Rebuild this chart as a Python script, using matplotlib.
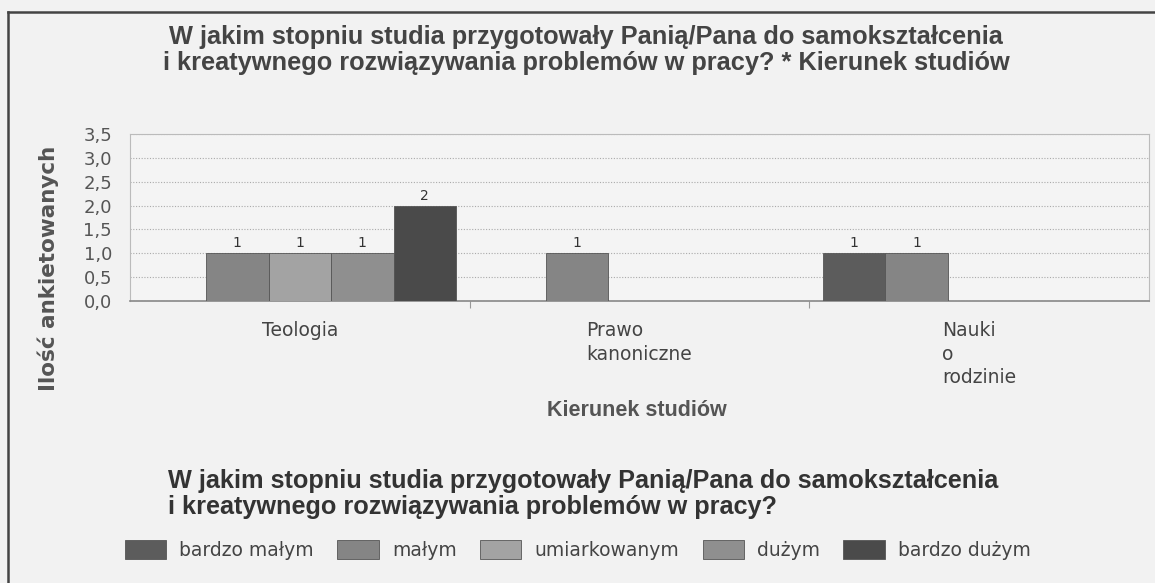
import numpy as np
import matplotlib.pyplot as plt
from matplotlib.lines import Line2D

# data
kierunki = ['Teologia', 'Prawo\nkanoniczne', 'Nauki\no\nrodzinie']
stopnie = ['bardzo małym', 'małym', 'umiarkowanym', 'dużym', 'bardzo dużym']
bardzo_malym = [0, 0, 1]
malym = [1, 1, 1]
umiarkowanym = [1, 0, 0]
duzym = [1, 0, 0]
bardzo_duzym = [2, 0, 0]
y_ticks = [0.0, 0.5, 1.0, 1.5, 2.0, 2.5, 3.0, 3.5]

serie = [bardzo_malym, malym, umiarkowanym, duzym, bardzo_duzym]
kolory = ['#5c5c5c', '#858585', '#a3a3a3', '#8f8f8f', '#4a4a4a']

W, H = 1155, 583
fig = plt.figure(figsize=(W / 100, H / 100), dpi=100, facecolor='#f2f2f2')
ax = fig.add_axes([130 / W, 1 - 301 / H, (1149 - 130) / W, (301 - 134) / H])
ax.set_facecolor('#f4f4f4')

x = np.arange(len(kierunki))
w = 0.184
for i, (vals, kol) in enumerate(zip(serie, kolory)):
    pos = x + (i - 2) * w
    bars = ax.bar(pos, vals, width=w, color=kol, edgecolor='#555555',
                  linewidth=0.6, label=stopnie[i], zorder=3)
    for b, v in zip(bars, vals):
        if v > 0:
            ax.text(b.get_x() + b.get_width() / 2, v + 0.06, str(v),
                    ha='center', va='bottom', fontsize=10, color='#333333')

ax.set_xlim(-0.5, 2.5)
ax.set_ylim(0, 3.5)
ax.set_yticks(y_ticks)
ax.set_yticklabels([('%.1f' % t).replace('.', ',') for t in y_ticks],
                   fontsize=13, color='#555555')
ax.tick_params(axis='y', length=0, pad=13)
ax.yaxis.grid(True, linestyle=(0, (1, 1.5)), color='#aaaaaa', linewidth=0.8, zorder=0)

ax.set_xticks([0.5, 1.5])
ax.set_xticklabels([])
ax.tick_params(axis='x', length=5, color='#999999', direction='out')
for xi, lab in zip(x, kierunki):
    ax.text(xi, -0.42, lab, ha='center', va='top', multialignment='left',
            fontsize=13.5, color='#444444', linespacing=1.3)

for s in ['top', 'right', 'left']:
    ax.spines[s].set_color('#bbbbbb')
ax.spines['bottom'].set_color('#888888')
ax.spines['bottom'].set_linewidth(1.2)

fig.text(48 / W, 1 - 268 / H, 'Ilość ankietowanych', rotation=90,
         ha='center', va='center', fontsize=15.5, fontweight='bold', color='#555555')
fig.text(637 / W, 1 - 411 / H, 'Kierunek studiów', ha='center', va='center',
         fontsize=15.5, fontweight='bold', color='#555555', family='Liberation Sans')

fig.text(586 / W, 1 - 50 / H,
         'W jakim stopniu studia przygotowały Panią/Pana do samokształcenia\n'
         'i kreatywnego rozwiązywania problemów w pracy? * Kierunek studiów',
         ha='center', va='center', fontsize=18.3, fontweight='bold',
         color='#444444', family='Liberation Sans', linespacing=1.15)

fig.text(168 / W, 1 - 494 / H,
         'W jakim stopniu studia przygotowały Panią/Pana do samokształcenia\n'
         'i kreatywnego rozwiązywania problemów w pracy?',
         ha='left', va='center', fontsize=18.2, fontweight='bold',
         color='#333333', family='Liberation Sans', linespacing=1.15)

fig.legend(loc='center left', bbox_to_anchor=(125 / W, 1 - 550 / H),
           ncol=5, frameon=False, fontsize=13.5, handlelength=2.2,
           handleheight=1.15, handletextpad=0.7, columnspacing=1.25,
           borderpad=0, borderaxespad=0, labelcolor='#444444')

# outer frame: only top and left edges are visible
fig.add_artist(Line2D([8 / W, 1], [1 - 12 / H, 1 - 12 / H], transform=fig.transFigure,
                      color='#444444', linewidth=1.8))
fig.add_artist(Line2D([8 / W, 8 / W], [0, 1 - 12 / H], transform=fig.transFigure,
                      color='#444444', linewidth=1.8))

fig.savefig('out.png', dpi=100, facecolor=fig.get_facecolor())
